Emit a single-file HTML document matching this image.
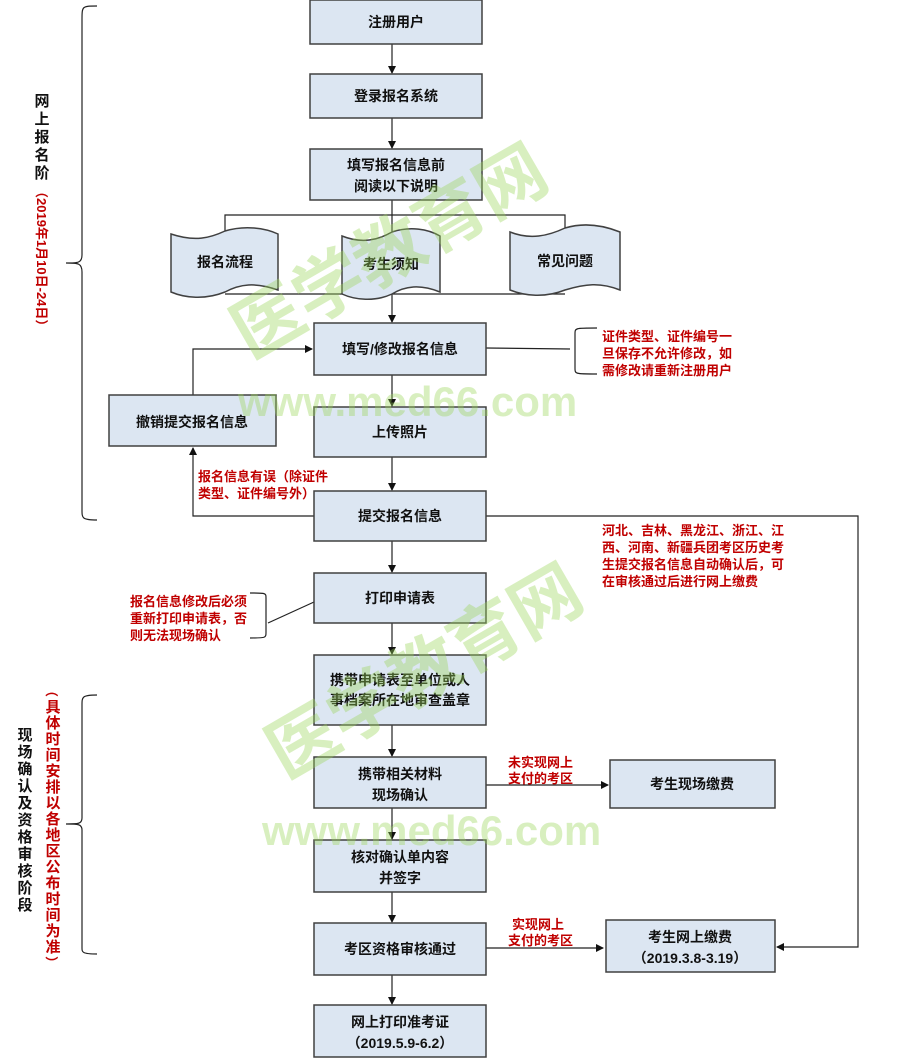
<!DOCTYPE html>
<html><head><meta charset="utf-8"><style>
body{margin:0;background:#fff;}
svg{display:block;font-family:"Liberation Sans","Noto Sans CJK SC",sans-serif;}
.b{fill:#dce6f2;stroke:#404040;stroke-width:1.5;}
.t{font-size:14px;font-weight:bold;fill:#111;text-anchor:middle;}
.r{font-size:13px;font-weight:bold;fill:#c00000;}
.l{stroke:#222;stroke-width:1.2;fill:none;}
.wm{fill:#9bd65a;opacity:0.38;font-weight:bold;}
.v{text-anchor:middle;font-weight:bold;}
</style></head><body>
<svg width="900" height="1058" viewBox="0 0 900 1058">
<defs><marker id="a" markerWidth="8" markerHeight="8" refX="7" refY="4" orient="auto" markerUnits="userSpaceOnUse"><path d="M0,0 L8,4 L0,8 z" fill="#111"/></marker></defs>

<!-- braces -->
<path class="l" d="M97,6 C82,6 82,6 82,20 L82,255 C82,263 78,263 66,263 C78,263 82,263 82,272 L82,510 C82,518 82,520 97,520" stroke="#444"/>
<path class="l" d="M97,695 C82,695 82,697 82,705 L82,818 C82,824 78,824 66,824 C78,824 82,824 82,830 L82,948 C82,952 82,954 97,954" stroke="#444"/>

<!-- left stage labels -->
<text class="v" font-size="15" fill="#111"><tspan x="42" y="106">网</tspan><tspan x="42" y="124">上</tspan><tspan x="42" y="142">报</tspan><tspan x="42" y="160">名</tspan><tspan x="42" y="178">阶</tspan></text>
<text class="r" font-size="14" transform="translate(37,185) rotate(90)">（2019年1月10日-24日）</text>
<text class="v" font-size="15" fill="#111"><tspan x="25" y="740">现</tspan><tspan x="25" y="757">场</tspan><tspan x="25" y="774">确</tspan><tspan x="25" y="791">认</tspan><tspan x="25" y="808">及</tspan><tspan x="25" y="825">资</tspan><tspan x="25" y="842">格</tspan><tspan x="25" y="859">审</tspan><tspan x="25" y="876">核</tspan><tspan x="25" y="893">阶</tspan><tspan x="25" y="910">段</tspan></text>
<text class="r" font-size="14" transform="translate(47,684) rotate(90)">（</text>
<text class="v" font-size="15" fill="#c00000"><tspan x="53" y="712">具</tspan><tspan x="53" y="728">体</tspan><tspan x="53" y="744">时</tspan><tspan x="53" y="760">间</tspan><tspan x="53" y="776">安</tspan><tspan x="53" y="792">排</tspan><tspan x="53" y="808">以</tspan><tspan x="53" y="824">各</tspan><tspan x="53" y="840">地</tspan><tspan x="53" y="856">区</tspan><tspan x="53" y="872">公</tspan><tspan x="53" y="888">布</tspan><tspan x="53" y="904">时</tspan><tspan x="53" y="920">间</tspan><tspan x="53" y="936">为</tspan><tspan x="53" y="952">准</tspan></text>
<text class="r" font-size="14" transform="translate(47,956) rotate(90)">）</text>

<!-- connectors -->
<line class="l" x1="392" y1="44" x2="392" y2="73" marker-end="url(#a)"/>
<line class="l" x1="392" y1="118" x2="392" y2="148" marker-end="url(#a)"/>
<line class="l" x1="392" y1="200" x2="392" y2="240" marker-end="url(#a)"/>
<polyline class="l" points="225,240 225,215 565,215 565,240" />
<line class="l" x1="225" y1="232" x2="225" y2="241" marker-end="url(#a)"/>
<line class="l" x1="565" y1="232" x2="565" y2="241" marker-end="url(#a)"/>
<polyline class="l" points="225,294 565,294"/>
<line class="l" x1="392" y1="294" x2="392" y2="322" marker-end="url(#a)"/>
<line class="l" x1="392" y1="375" x2="392" y2="406" marker-end="url(#a)"/>
<line class="l" x1="392" y1="457" x2="392" y2="490" marker-end="url(#a)"/>
<line class="l" x1="392" y1="541" x2="392" y2="572" marker-end="url(#a)"/>
<line class="l" x1="392" y1="623" x2="392" y2="654" marker-end="url(#a)"/>
<line class="l" x1="392" y1="725" x2="392" y2="756" marker-end="url(#a)"/>
<line class="l" x1="392" y1="808" x2="392" y2="839" marker-end="url(#a)"/>
<line class="l" x1="392" y1="892" x2="392" y2="922" marker-end="url(#a)"/>
<line class="l" x1="392" y1="975" x2="392" y2="1004" marker-end="url(#a)"/>
<polyline class="l" points="193,395 193,349 312,349" marker-end="url(#a)"/>
<polyline class="l" points="314,516 193,516 193,448" marker-end="url(#a)"/>
<polyline class="l" points="486,516 858,516 858,947 777,947" marker-end="url(#a)"/>
<line class="l" x1="486" y1="785" x2="608" y2="785" marker-end="url(#a)"/>
<line class="l" x1="486" y1="948" x2="603" y2="948" marker-end="url(#a)"/>
<line class="l" x1="486" y1="348" x2="570" y2="349"/>
<path class="l" d="M597,328 C575,328 575,328 575,334 L575,368 C575,374 575,374 597,374"/>
<line class="l" x1="314" y1="602" x2="268" y2="623"/>
<path class="l" d="M250,593 C266,593 266,593 266,598 L266,632 C266,638 266,638 250,638"/>

<!-- boxes -->
<rect class="b" x="310" y="0" width="172" height="44"/><text class="t" x="396" y="27">注册用户</text>
<rect class="b" x="310" y="74" width="172" height="44"/><text class="t" x="396" y="101">登录报名系统</text>
<rect class="b" x="310" y="149" width="172" height="51"/><text class="t" x="396" y="170">填写报名信息前</text><text class="t" x="396" y="191">阅读以下说明</text>
<path class="b" d="M171,234 C195,242 210,238 225,231 C245,225 265,228 278,234 L278,290 C255,282 240,284 225,292 C205,300 185,298 171,292 z"/><text class="t" x="225" y="267">报名流程</text>
<path class="b" d="M342,236 C362,244 378,240 392,232 C410,226 428,229 440,236 L440,292 C420,284 405,286 392,294 C375,302 355,300 342,294 z"/><text class="t" x="391" y="269">考生须知</text>
<path class="b" d="M510,232 C530,240 548,236 565,228 C585,222 605,226 620,232 L620,290 C600,282 585,284 565,290 C545,298 525,296 510,290 z"/><text class="t" x="565" y="266">常见问题</text>

<rect class="b" x="314" y="323" width="172" height="52"/><text class="t" x="400" y="354">填写/修改报名信息</text>
<rect class="b" x="109" y="395" width="167" height="51"/><text class="t" x="192" y="427">撤销提交报名信息</text>
<rect class="b" x="314" y="407" width="172" height="50"/><text class="t" x="400" y="437">上传照片</text>
<rect class="b" x="314" y="491" width="172" height="50"/><text class="t" x="400" y="521">提交报名信息</text>
<rect class="b" x="314" y="573" width="172" height="50"/><text class="t" x="400" y="603">打印申请表</text>
<rect class="b" x="314" y="655" width="172" height="70"/><text class="t" x="400" y="685">携带申请表至单位或人</text><text class="t" x="400" y="705">事档案所在地审查盖章</text>
<rect class="b" x="314" y="757" width="172" height="51"/><text class="t" x="400" y="779">携带相关材料</text><text class="t" x="400" y="800">现场确认</text>
<rect class="b" x="610" y="760" width="165" height="48"/><text class="t" x="692" y="789">考生现场缴费</text>
<rect class="b" x="314" y="840" width="172" height="52"/><text class="t" x="400" y="862">核对确认单内容</text><text class="t" x="400" y="883">并签字</text>
<rect class="b" x="314" y="923" width="172" height="52"/><text class="t" x="400" y="954">考区资格审核通过</text>
<rect class="b" x="606" y="920" width="169" height="52"/><text class="t" x="690" y="942">考生网上缴费</text><text class="t" x="690" y="963" font-size="13">（2019.3.8-3.19）</text>
<rect class="b" x="314" y="1005" width="172" height="52"/><text class="t" x="400" y="1027">网上打印准考证</text><text class="t" x="400" y="1048" font-size="13">（2019.5.9-6.2）</text>

<!-- red notes -->
<text class="r"><tspan x="602" y="341">证件类型、证件编号一</tspan><tspan x="602" y="358">旦保存不允许修改，如</tspan><tspan x="602" y="375">需修改请重新注册用户</tspan></text>
<text class="r"><tspan x="198" y="481">报名信息有误（除证件</tspan><tspan x="198" y="498">类型、证件编号外）</tspan></text>
<text class="r"><tspan x="602" y="535">河北、吉林、黑龙江、浙江、江</tspan><tspan x="602" y="552">西、河南、新疆兵团考区历史考</tspan><tspan x="602" y="569">生提交报名信息自动确认后，可</tspan><tspan x="602" y="586">在审核通过后进行网上缴费</tspan></text>
<text class="r"><tspan x="130" y="606">报名信息修改后必须</tspan><tspan x="130" y="623">重新打印申请表，否</tspan><tspan x="130" y="640">则无法现场确认</tspan></text>
<text class="r"><tspan x="508" y="767">未实现网上</tspan><tspan x="508" y="783">支付的考区</tspan></text>
<text class="r"><tspan x="512" y="929">实现网上</tspan><tspan x="508" y="945">支付的考区</tspan></text>

<!-- watermarks -->
<text class="wm" font-size="70" transform="translate(250,360) rotate(-30)">医学教育网</text>
<text class="wm" font-size="42" x="238" y="416">www.med66.com</text>
<text class="wm" font-size="70" transform="translate(285,780) rotate(-30)">医学教育网</text>
<text class="wm" font-size="42" x="262" y="845">www.med66.com</text>
</svg>
</body></html>
